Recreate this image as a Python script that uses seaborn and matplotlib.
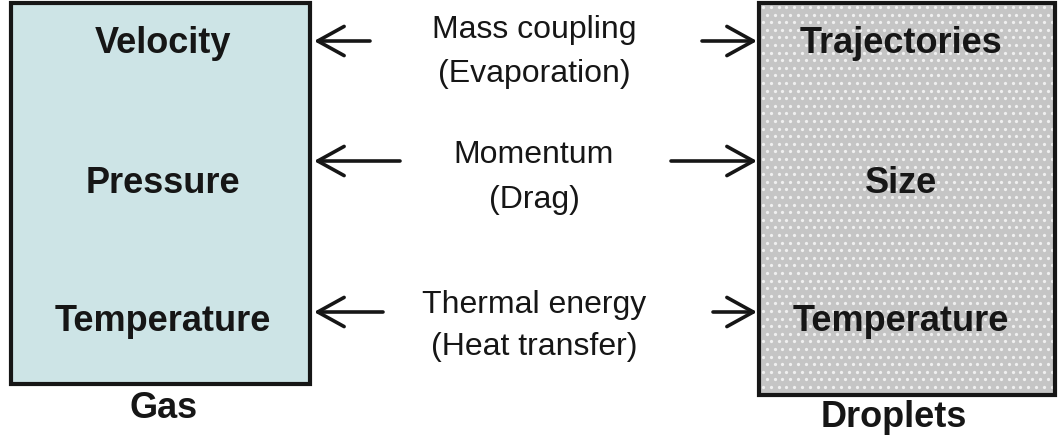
import numpy as np
import matplotlib
matplotlib.use("Agg")
from matplotlib import pyplot as plt
from matplotlib.patches import Rectangle, FancyArrowPatch
import seaborn as sns

# ---------------- labels ----------------
gas_props = ["Velocity", "Pressure", "Temperature"]
droplet_props = ["Trajectories", "Size", "Temperature"]
couplings = ["Mass coupling", "Momentum", "Thermal energy"]
mechanisms = ["(Evaporation)", "(Drag)", "(Heat transfer)"]
box_titles = ["Gas", "Droplets"]

sns.set_style("white")
plt.rcParams["font.family"] = ["Liberation Sans", "DejaVu Sans"]

W, H = 1058, 440
fig = plt.figure(figsize=(W / 100, H / 100), dpi=100)
ax = fig.add_axes([0, 0, 1, 1])
ax.set_xlim(0, W)
ax.set_ylim(H, 0)
ax.axis("off")

ink = "#161616"

# ---------------- boxes ----------------
gas_box = Rectangle((10.5, 3.5), 299.5, 380.5, facecolor="#cde4e6",
                    edgecolor=ink, linewidth=3, zorder=1)
ax.add_patch(gas_box)

drop_box = Rectangle((759, 3.5), 295.5, 391.5, facecolor="#c5c5c5",
                     edgecolor="none", linewidth=0, zorder=1)
ax.add_patch(drop_box)
# dotted texture
xs, ys = [], []
for i, yy in enumerate(np.arange(7, 394, 7.6)):
    off = 0 if i % 2 == 0 else 3.9
    for xx in np.arange(763 + off, 1054, 7.8):
        xs.append(xx)
        ys.append(yy)
dots = ax.scatter(xs, ys, s=5.5, marker="o", color="#f0f0f0", linewidths=0, zorder=2)
dots.set_clip_path(drop_box)
ax.add_patch(Rectangle((759, 3.5), 295.5, 391.5, facecolor="none",
                       edgecolor=ink, linewidth=3, zorder=3))

# ---------------- bold property labels ----------------
label_base = [53, 193, 331]
for name, yb in zip(gas_props, label_base):
    ax.text(163, yb, name, ha="center", va="baseline", fontsize=26,
            fontweight="bold", color=ink, zorder=4)
for name, yb in zip(droplet_props, label_base):
    ax.text(901, yb, name, ha="center", va="baseline", fontsize=26,
            fontweight="bold", color=ink, zorder=4)

ax.text(164, 418, box_titles[0], ha="center", va="baseline", fontsize=26,
        fontweight="bold", color=ink)
ax.text(894, 427, box_titles[1], ha="center", va="baseline", fontsize=26,
        fontweight="bold", color=ink)

# ---------------- coupling text + arrows ----------------
line1_base = [38, 163, 313]
line2_base = [82, 208, 355]
for c, m, y1, y2 in zip(couplings, mechanisms, line1_base, line2_base):
    ax.text(534, y1, c, ha="center", va="baseline", fontsize=23, color=ink)
    ax.text(534, y2, m, ha="center", va="baseline", fontsize=23, color=ink)

arrow_y = [41, 161, 312]
left_tail = [370, 400, 383]
right_tail = [702, 671, 713]
style = "->,head_length=1.9,head_width=1.05"
for yy, lt, rt in zip(arrow_y, left_tail, right_tail):
    ax.add_patch(FancyArrowPatch((lt, yy), (314, yy), arrowstyle=style,
                                 mutation_scale=10, linewidth=2.6, color=ink,
                                 shrinkA=0, shrinkB=0, zorder=5))
    ax.add_patch(FancyArrowPatch((rt, yy), (757, yy), arrowstyle=style,
                                 mutation_scale=10, linewidth=2.6, color=ink,
                                 shrinkA=0, shrinkB=0, zorder=5))

fig.savefig("out.png", dpi=100, facecolor="white")
